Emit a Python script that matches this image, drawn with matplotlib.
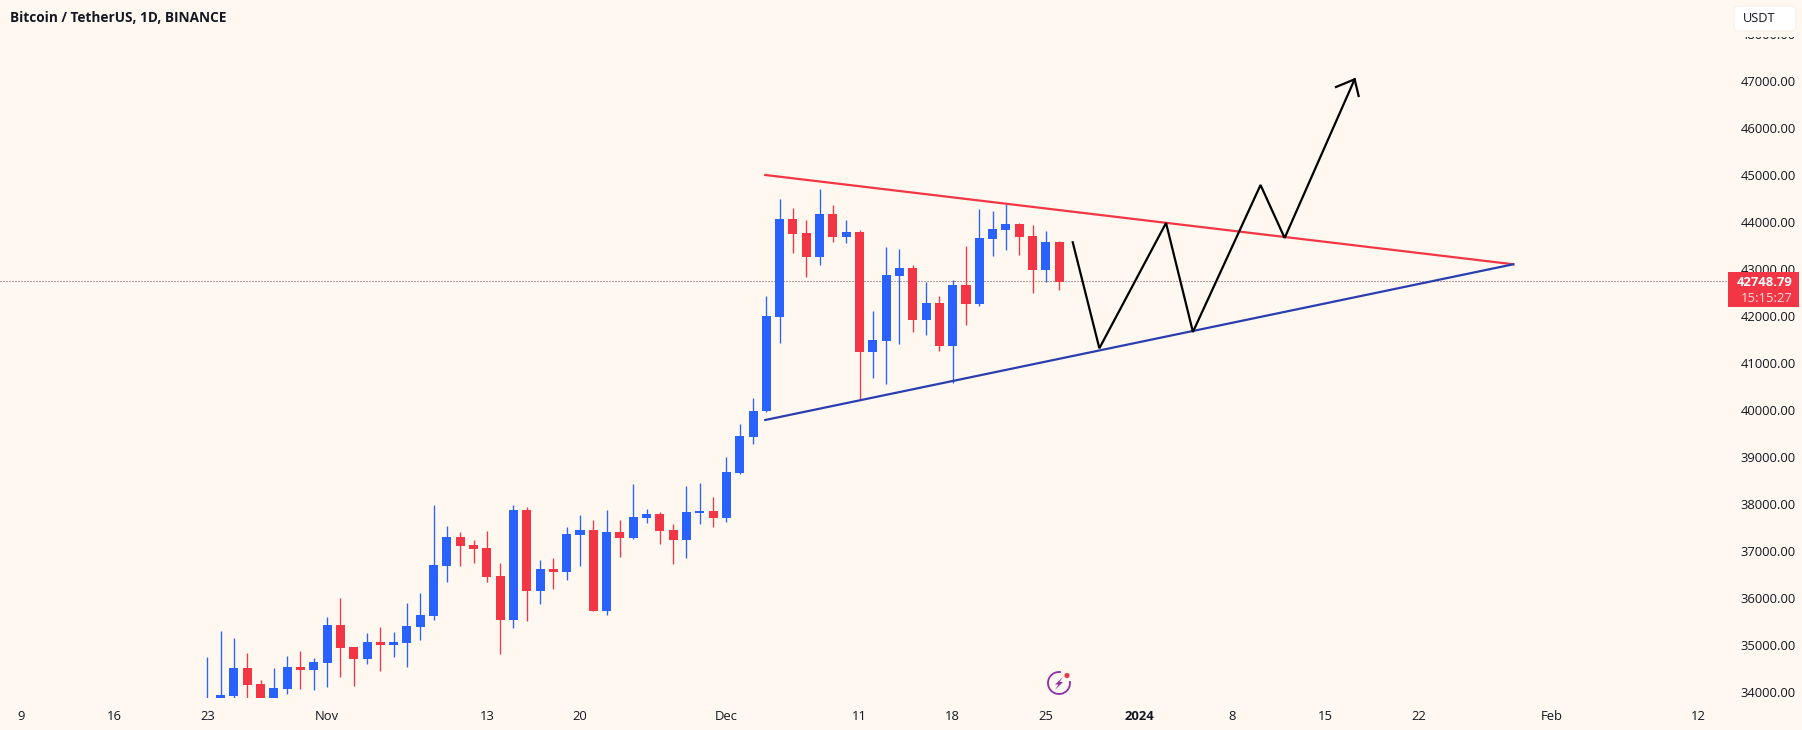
import pandas as pd
import matplotlib
matplotlib.use("Agg")
import matplotlib.pyplot as plt
from matplotlib.patches import Circle, FancyBboxPatch, Rectangle, Arc, Polygon

BG = "#FFF8F1"
UP = "#2962FF"
DOWN = "#F23645"
TXT = "#131722"

### Data ###
dates = pd.date_range("2023-10-23", periods=65)

opens = [32000, 33880, 33922, 34504, 34163, 33880, 34064, 34532, 34468, 34624,
         35426, 34950, 34709, 35064, 35007, 35050, 35390, 35624, 36688, 37298,
         37127, 37064, 36468, 35532, 37872, 36149, 36617, 36553, 37340, 37447,
         35723, 37404, 37277, 37702, 37787, 37447, 37234, 37815, 37851, 37702,
         38659, 39432, 39972, 41986, 44064, 43766, 43255, 44170, 43681, 43787,
         41234, 41468, 42851, 43021, 41915, 42277, 41362, 42660, 42255, 43638,
         43830, 43957, 43702, 42979, 43574]
highs = [34752, 35305, 35156, 34830, 34248, 34510, 34766, 34872, 34723, 35596,
         36000, 34960, 35255, 35390, 35277, 35901, 36099, 37979, 37532, 37404,
         37234, 37432, 36745, 37979, 37929, 36808, 36851, 37518, 37773, 37660,
         37872, 37660, 38425, 37894, 37830, 37574, 38390, 38454, 38149, 39000,
         39702, 40255, 42426, 44497, 44291, 44043, 44702, 44362, 44043, 43823,
         42113, 43475, 43426, 43085, 42723, 42426, 42766, 43489, 44277, 44241,
         44397, 43979, 43936, 43816, 43596]
lows = [31900, 33500, 33880, 33865, 33600, 33700, 33950, 34064, 34043, 34106,
        34312, 34135, 34603, 34454, 34745, 34532, 35106, 35532, 36340, 36681,
        36737, 36340, 34808, 35362, 35511, 35872, 36191, 36383, 36681, 35723,
        35645, 36865, 37255, 37603, 37149, 36723, 36858, 37574, 37518, 37617,
        38645, 39276, 39950, 41433, 43333, 42830, 43078, 43574, 43553, 40220,
        40681, 40553, 41404, 41660, 41596, 41255, 40567, 41809, 42213, 43277,
        43404, 43298, 42482, 42723, 42553]
closes = [33100, 33936, 34504, 34156, 33880, 34085, 34532, 34468, 34638, 35426,
          34943, 34709, 35064, 35007, 35057, 35404, 35638, 36702, 37298, 37113,
          37042, 36454, 35532, 37872, 36149, 36617, 36553, 37362, 37447, 35723,
          37404, 37277, 37723, 37787, 37425, 37234, 37830, 37851, 37702, 38681,
          39447, 39979, 42000, 44064, 43745, 43255, 44170, 43681, 43787, 41234,
          41489, 42872, 43021, 41915, 42277, 41362, 42660, 42255, 43660, 43851,
          43957, 43681, 42979, 43574, 42723]

last_price = 42748.79
countdown = "15:15:27"

# drawings, x in days from the first candle
red_x = [41.92, 98.12]
red_y = [45000, 43100]
blue_x = [41.92, 98.12]
blue_y = [39787, 43100]
path_x = [65.02, 67.02, 72.03, 74.05, 79.13, 80.94, 86.2]
path_y = [43568, 41313, 43979, 41660, 44787, 43660, 47036]
wing_x = [84.8, 86.2, 86.5]
wing_y = [46872, 47036, 46681]

price_ticks = list(range(34000, 49000, 1000))
day_ticks = [-14, -7, 0, 9, 21, 28, 39, 49, 56, 63, 70, 77, 84, 91, 101, 112]
day_labels = ["9", "16", "23", "Nov", "13", "20", "Dec", "11", "18", "25",
              "2024", "8", "15", "22", "Feb", "12"]

plt.rcParams["font.family"] = ["Open Sans", "DejaVu Sans"]

fig = plt.figure(figsize=(18.02, 7.3), dpi=100, facecolor=BG)
W, H = 1802, 730
ax = fig.add_axes([0, (H - 698) / H, 1728 / W, 698 / H], facecolor=BG)

days = list(range(len(dates)))
colors = [UP if c >= o else DOWN for o, c in zip(opens, closes)]
ax.vlines(days, lows, highs, colors=colors, lw=0.95, zorder=2)
ax.bar(days, [abs(c - o) for o, c in zip(opens, closes)],
       bottom=[min(o, c) for o, c in zip(opens, closes)],
       width=0.68, color=colors, linewidth=0, zorder=3)

ax.axhline(last_price, color="#7d3b40", lw=0.72, ls=(0, (1, 2)), zorder=1)
ax.plot(red_x, red_y, color=DOWN, lw=1.6, zorder=4)
ax.plot(blue_x, blue_y, color="#2A3EB1", lw=1.6, zorder=4)
ax.plot(path_x, path_y, color="black", lw=1.6, zorder=5, solid_joinstyle="miter")
ax.plot(wing_x, wing_y, color="black", lw=1.6, zorder=5, solid_joinstyle="miter")

ax.set_xlim(-15.575, 114.25)
ax.set_ylim(33872, 48723)
ax.yaxis.tick_right()
ax.set_yticks(price_ticks, [f"{p:.2f}" for p in price_ticks])
ax.set_xticks(day_ticks, day_labels)
ax.tick_params(axis="y", length=0, pad=9, labelsize=9.4, labelcolor=TXT)
ax.tick_params(axis="x", length=0, pad=9, labelsize=9.4, labelcolor=TXT)
ax.get_xticklabels()[day_labels.index("2024")].set_fontweight("bold")
for s in ax.spines.values():
    s.set_visible(False)

# overlay in pixels for the platform furniture
ov = fig.add_axes([0, 0, 1, 1], facecolor="none")
ov.set_xlim(0, W)
ov.set_ylim(H, 0)
ov.axis("off")

ov.text(10, 18, "Bitcoin / TetherUS, 1D, BINANCE", fontsize=9.85, fontweight="bold",
        color=TXT, va="center", ha="left")

# button hides most of the top price label
ov.add_patch(Rectangle((1728, 0), 74, 37, fc=BG, ec="none", zorder=3))
ov.add_patch(FancyBboxPatch((1734, 6), 62, 25, boxstyle="round,pad=0,rounding_size=5",
                            fc="white", ec="#f8f3ed", lw=1.2, zorder=5))
ov.text(1743, 19, "USDT", fontsize=9.2, color=TXT, va="center", ha="left", zorder=6)

ov.add_patch(Rectangle((1728, 272), 71, 35, fc=DOWN, ec="none", zorder=5))
ov.text(1793, 282, f"{last_price:.2f}", fontsize=9.4, fontweight="bold", color="white",
        va="center", ha="right", zorder=6)
ov.text(1793, 298, countdown, fontsize=9.4, color="#FFD9DC", va="center", ha="right", zorder=6)

# the small purple bolt badge
purple = "#8E2FA8"
ov.add_patch(Arc((1059, 683), 22, 22, theta1=-10, theta2=280, color=purple, lw=1.3))
ov.add_patch(Polygon([(1063, 677), (1055, 684.5), (1058.5, 684.5), (1055, 690), (1063, 682),
                      (1059.5, 682)], closed=True, fc=purple, ec="none"))
ov.add_patch(Circle((1067, 675.5), 2.6, fc="#E5384F", ec="none"))

fig.savefig("out.png", dpi=100, facecolor=BG)
